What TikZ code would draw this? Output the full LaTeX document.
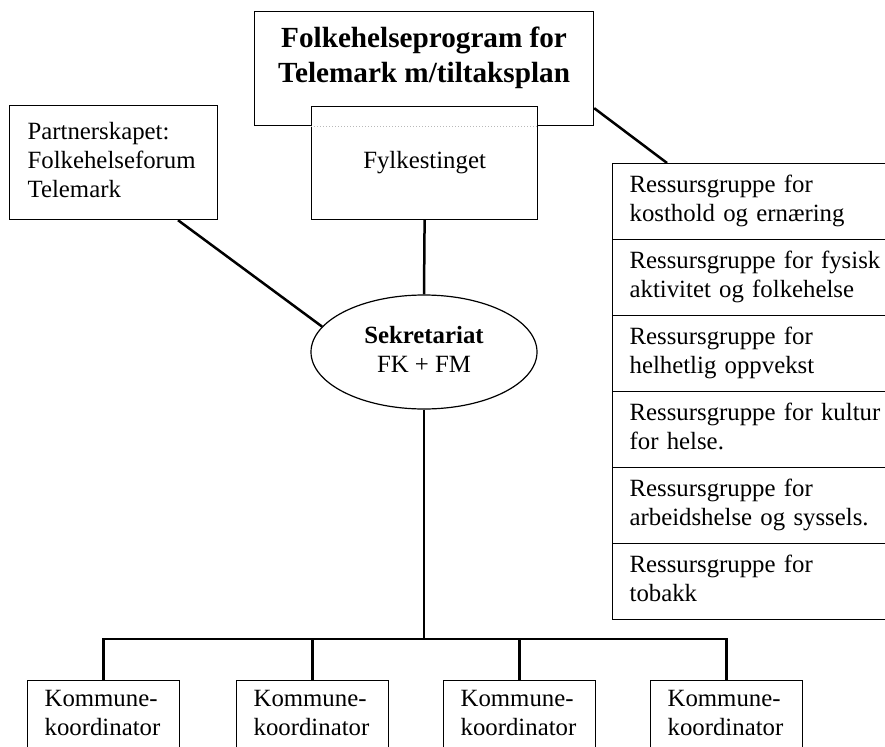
\documentclass[tikz,border=0pt]{standalone}
\usepackage{fontspec}
\setmainfont{Liberation Serif}
\usetikzlibrary{shapes.geometric}
\newcommand\regfont{\fontsize{24.8}{29}\selectfont}
\newcommand\bigbold{\fontsize{29.2}{35}\selectfont\bfseries}
\tikzset{
  frame/.style={draw, line width=1.2pt, fill=white, anchor=north west, inner ysep=0pt},
  rbox/.style={frame, minimum height=76pt, text width=266pt, inner xsep=17pt, align=left, font=\regfont},
  kbox/.style={frame, text width=118pt, inner xsep=17pt, inner ysep=6pt, align=left, font=\regfont},
  conn/.style={line width=2.5pt},
}
\begin{document}
\begin{tikzpicture}[x=1pt,y=-1pt]
\useasboundingbox (0,0) rectangle (885,746);
\clip (0,0) rectangle (885,746);

% top box
\node[frame, minimum width=339pt, minimum height=114pt, inner sep=0pt, align=center, font=\bigbold]
  (top) at (254,11) {\strut Folkehelseprogram for\\\strut Telemark m/tiltaksplan\rule[-31.5pt]{0pt}{0pt}};
% Fylkestinget
\node[frame, minimum width=226pt, minimum height=113pt, inner sep=0pt, align=center, font=\regfont]
  (fyl) at (311,106) {\strut Fylkestinget};
\draw[gray!55, dotted, line width=1pt] (fyl.west |- top.south) -- (fyl.east |- top.south);

% Partnerskapet
\node[frame, minimum width=208pt, minimum height=114pt, inner xsep=18pt, text width=172pt, align=left, font=\regfont]
  (partner) at (9,105) {\strut Partnerskapet:\\\strut Folkehelseforum\\\strut Telemark};

% right column
\node[rbox] (r1) at (612,163) {\strut Ressursgruppe for\\\strut kosthold og ernæring};
\node[rbox] (r2) at (612,239) {\strut Ressursgruppe for fysisk\\\strut aktivitet og folkehelse};
\node[rbox] (r3) at (612,315) {\strut Ressursgruppe for\\\strut helhetlig oppvekst};
\node[rbox] (r4) at (612,391) {\strut Ressursgruppe for kultur\\\strut for helse.};
\node[rbox] (r5) at (612,467) {\strut Ressursgruppe for\\\strut arbeidshelse og syssels.};
\node[rbox] (r6) at (612,543) {\strut Ressursgruppe for\\\strut tobakk};

% Sekretariat
\node[draw, ellipse, line width=1.2pt, minimum width=226pt, minimum height=114pt, inner sep=0pt, align=center, font=\regfont]
  (sek) at (424,352) {\strut\textbf{Sekretariat}\\\strut FK + FM};

% Kommune boxes
\node[kbox] (k1) at (27,680) {\strut Kommune-\\\strut koordinator\rule[-40pt]{0pt}{0pt}};
\node[kbox] (k2) at (236,680) {\strut Kommune-\\\strut koordinator\rule[-40pt]{0pt}{0pt}};
\node[kbox] (k3) at (443,680) {\strut Kommune-\\\strut koordinator\rule[-40pt]{0pt}{0pt}};
\node[kbox] (k4) at (650,680) {\strut Kommune-\\\strut koordinator\rule[-40pt]{0pt}{0pt}};

% connectors
\coordinate (hub) at (424,639);
\draw[conn] (fyl.south) -- (sek.north);
\draw[conn] ([xshift=169pt]partner.south west) -- (sek.166);
\draw[conn] ([yshift=18pt]top.south east) -- ([xshift=55pt]r1.north west);
\draw[conn] (sek.south) -- (hub);
\draw[conn] (k1.north) -- (k1.north |- hub) -- (k4.north |- hub) -- (k4.north);
\draw[conn] (k2.north) -- (k2.north |- hub);
\draw[conn] (k3.north) -- (k3.north |- hub);
\end{tikzpicture}
\end{document}
